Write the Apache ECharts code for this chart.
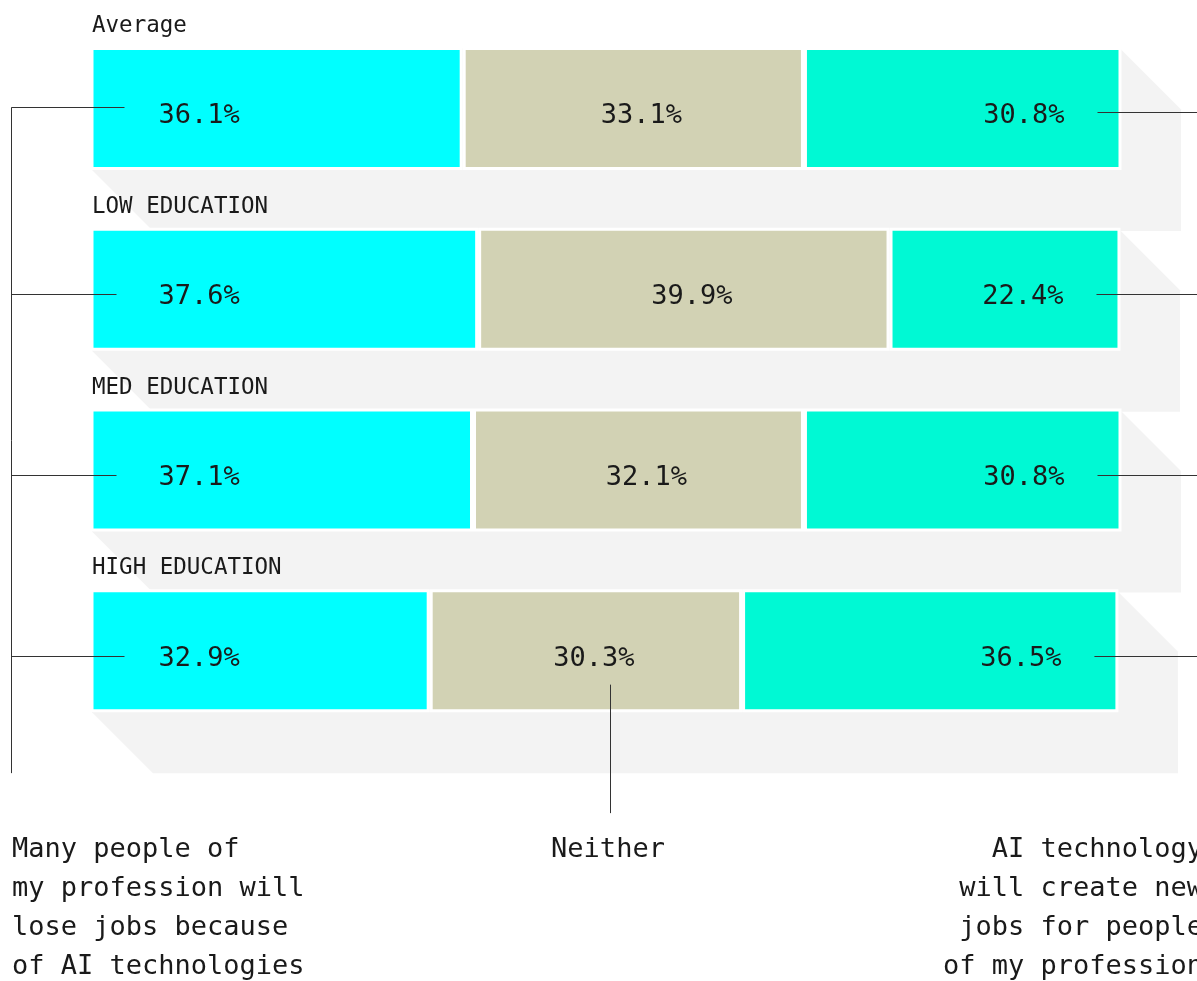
<!DOCTYPE html>
<html><head><meta charset="utf-8">
<script src="https://cdn.jsdelivr.net/npm/echarts@6/dist/echarts.min.js"></script>
<style>html,body{margin:0;padding:0;background:#fff}#c{width:1197px;height:981px}</style>
</head><body><div id="c"></div>
<script>
const categories = ['Average', 'LOW EDUCATION', 'MED EDUCATION', 'HIGH EDUCATION'];
const loseJobs   = [36.1, 37.6, 37.1, 32.9];
const neither    = [33.1, 39.9, 32.1, 30.3];
const createJobs = [30.8, 22.4, 30.8, 36.5];
const leftNote  = 'Many people of\nmy profession will\nlose jobs because\nof AI technologies';
const midNote   = 'Neither';
const rightNote = 'AI technology\nwill create new\njobs for people\nof my profession';

const FONT = '"DejaVu Sans Mono", "Liberation Mono", monospace';
const INK = '#1a1a1a';
const LINE = '#333';
const SHADOW = '#f3f3f3';
const D = 61;      // shadow offset
const BAR_H = 123;

const totals = categories.map((c, i) => +(loseJobs[i] + neither[i] + createJobs[i]).toFixed(1));

const chart = echarts.init(document.getElementById('c'), null, {renderer: 'canvas'});

const pctLabel = (pos, dist) => ({
  show: true, position: pos, distance: dist, offset: [0, 8],
  formatter: p => p.value.toFixed(1) + '%',
  color: INK, fontFamily: FONT, fontSize: 27
});

const option = {
  animation: false,
  backgroundColor: '#fff',
  grid: {left: 90.5, right: 75.5, top: 18, bottom: 240},
  xAxis: {type: 'value', min: 0, max: 100, show: false},
  yAxis: {type: 'category', data: categories, inverse: true, show: false},
  series: [
    {
      type: 'custom', z: 1, silent: true,
      data: categories.map((c, i) => [i, totals[i]]),
      encode: {x: 1, y: 0},
      renderItem: (params, api) => {
        const i = api.value(0);
        const tot = api.value(1);
        const p0 = api.coord([0, i]);
        const p1 = api.coord([tot, i]);
        const x0 = p0[0] + 1.5, x1 = p1[0] - 1.5;
        const yt = p0[1] - BAR_H / 2 + 1.5, yb = p0[1] + BAR_H / 2;
        return {
          type: 'group',
          children: [
            {type: 'polygon', z2: 0,
             shape: {points: [[x0, yt], [x1, yt], [x1 + D, yt + D], [x1 + D, yb + D], [x0 + D, yb + D], [x0, yb]]},
             style: {fill: SHADOW}},
            {type: 'text', z2: 10, x: x0, y: yt - 22,
             style: {text: categories[i], font: '22.5px ' + FONT, fill: INK, textVerticalAlign: 'middle', textAlign: 'left'}}
          ]
        };
      }
    },
    {
      name: 'Many people of my profession will lose jobs because of AI technologies',
      type: 'bar', stack: 'all', z: 2, barWidth: BAR_H, data: loseJobs,
      itemStyle: {color: '#00ffff', borderColor: '#fff', borderWidth: 3},
      label: pctLabel('insideLeft', 68)
    },
    {
      name: 'Neither',
      type: 'bar', stack: 'all', z: 2, barWidth: BAR_H, data: neither,
      itemStyle: {color: '#d2d2b4', borderColor: '#fff', borderWidth: 3},
      label: Object.assign(pctLabel('inside', 0), {offset: [8, 8]})
    },
    {
      name: 'AI technology will create new jobs for people of my profession',
      type: 'bar', stack: 'all', z: 2, barWidth: BAR_H, data: createJobs,
      itemStyle: {color: '#00f9d4', borderColor: '#fff', borderWidth: 3},
      label: pctLabel('insideRight', 57)
    }
  ]
};
chart.setOption(option);

// annotation leader lines & notes, positioned from the chart's own coordinate system
const px = (x, i) => chart.convertToPixel({gridIndex: 0}, [x, i]);
const g = [];
const lineStyle = {stroke: LINE, lineWidth: 1};
const n = categories.length;
const firstC = px(0, 0), lastC = px(0, n - 1);
const leftX = 11.5;
const lastShadowBottom = lastC[1] + BAR_H / 2 + D;
g.push({type: 'line', z: 100, shape: {x1: leftX, y1: firstC[1] - 1, x2: leftX, y2: lastShadowBottom}, style: lineStyle});
categories.forEach((c, i) => {
  const l = px(0, i);
  const r = px(totals[i], i);
  const yl = Math.round(l[1] + (i === 0 ? -1 : 5)) + 0.5;
  const yr = Math.round(l[1] + (i === 0 ? 4 : 5)) + 0.5;
  g.push({type: 'line', z: 100, shape: {x1: leftX, y1: yl, x2: l[0] + (i === 0 || i === n - 1 ? 34 : 26), y2: yl}, style: lineStyle});
  g.push({type: 'line', z: 100, shape: {x1: r[0] - 24, y1: yr, x2: 1197, y2: yr}, style: lineStyle});
});
// "Neither" pointer from the last bar's middle segment
const midX = (px(loseJobs[n - 1], n - 1)[0] + px(loseJobs[n - 1] + neither[n - 1], n - 1)[0]) / 2 + 24;
g.push({type: 'line', z: 100, shape: {x1: Math.round(midX) + 0.5, y1: lastC[1] + 34, x2: Math.round(midX) + 0.5, y2: lastShadowBottom + 40}, style: lineStyle});

const noteStyle = {font: '27px ' + FONT, fill: INK, lineHeight: 39, textVerticalAlign: 'top'};
g.push({type: 'text', z: 100, x: 12, y: 830, style: Object.assign({text: leftNote, textAlign: 'left'}, noteStyle)});
g.push({type: 'text', z: 100, x: 608, y: 830, style: Object.assign({text: midNote, textAlign: 'center'}, noteStyle)});
g.push({type: 'text', z: 100, x: 1203, y: 830, style: Object.assign({text: rightNote, textAlign: 'right'}, noteStyle)});

chart.setOption({graphic: g});
</script>
</body></html>
